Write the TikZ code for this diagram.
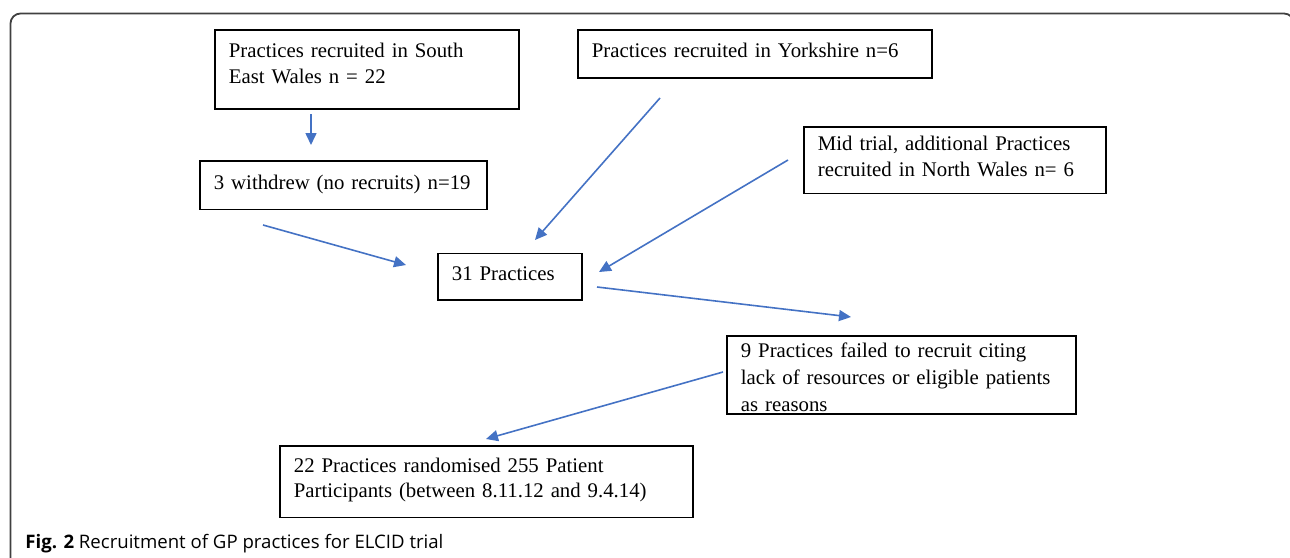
\documentclass[tikz,border=0pt]{standalone}
\usepackage{fontspec}
\setmainfont{Liberation Serif}
\newfontfamily\capfont{Open Sans}
\usetikzlibrary{arrows.meta}
\definecolor{arrowblue}{RGB}{68,114,196}
\hyphenpenalty=10000

\begin{document}
\begin{tikzpicture}[x=0.5pt, y=-0.5pt,
    flowbox/.style={draw=black, line width=0.9pt, anchor=north west, align=left,
      inner xsep=7pt, inner ysep=0pt, font=\fontsize{10.4}{12.6}\selectfont},
    flowarrow/.style={draw=arrowblue, line width=0.8pt,
      -{Triangle[length=6pt, width=5.5pt]}}]
    \useasboundingbox (0,0) rectangle (1290,557);
    \begin{scope}
      \clip (0,0) rectangle (1290,557); % frame runs off the page
      \draw[black!75, line width=0.9pt, rounded corners=5pt] (10.5,13.5) rectangle (1294,600);
    \end{scope}

    \node[flowbox, text width=138pt, text height=14pt, text depth=25.5pt] (sew) at (214,29)
      {Practices recruited in South\\East Wales n = 22};
    \node[flowbox, text width=163pt, text height=14pt, text depth=10pt] (york) at (577,29)
      {Practices recruited in Yorkshire n=6};
    \node[flowbox, text width=129.5pt, text height=14.25pt, text depth=10pt] (withdrew) at (199,160)
      {3 withdrew (no recruits) n=19};
    \node[flowbox, text width=137pt, text height=12pt, text depth=21.25pt] (nwales) at (803,126)
      {Mid trial, additional Practices\\recruited in North Wales n= 6};
    \node[flowbox, text width=58pt, text height=13.75pt, text depth=9.5pt] (total) at (437,252.5)
      {31 Practices};
    \node[flowbox, font=\fontsize{10.4}{13.3}\selectfont, text width=160.5pt, text height=11pt, text depth=28pt] (failed) at (726,335)
      {9 Practices failed to recruit citing\\lack of resources or eligible patients\\as reasons};
    \node[flowbox, text width=192.5pt, text height=13.25pt, text depth=22.5pt] (random) at (279,445)
      {22 Practices randomised 255 Patient\\Participants (between 8.11.12 and 9.4.14)};

    % arrow ends
    \coordinate (sew-out) at (311,114);
    \coordinate (withdrew-in) at (311,145);
    \coordinate (york-out) at (660,98);
    \coordinate (withdrew-out) at (263,225);
    \coordinate (nwales-out) at (788,160);
    \coordinate (total-in1) at (406,265);
    \coordinate (total-in2) at (535,240);
    \coordinate (total-in3) at (599,272);
    \coordinate (total-out) at (597,287);
    \coordinate (failed-in) at (851,317);
    \coordinate (failed-out) at (723,372);
    \coordinate (random-in) at (486,439);

    \draw[flowarrow] (sew-out) -- (withdrew-in);
    \draw[flowarrow] (withdrew-out) -- (total-in1);
    \draw[flowarrow] (york-out) -- (total-in2);
    \draw[flowarrow] (nwales-out) -- (total-in3);
    \draw[flowarrow] (total-out) -- (failed-in);
    \draw[flowarrow] (failed-out) -- (random-in);

    \node[anchor=base west, inner sep=0pt, font=\capfont\fontsize{9.3}{11}\selectfont] (caption) at (25,548)
      {\textbf{Fig. 2} Recruitment of GP practices for ELCID trial};
\end{tikzpicture}
\end{document}
